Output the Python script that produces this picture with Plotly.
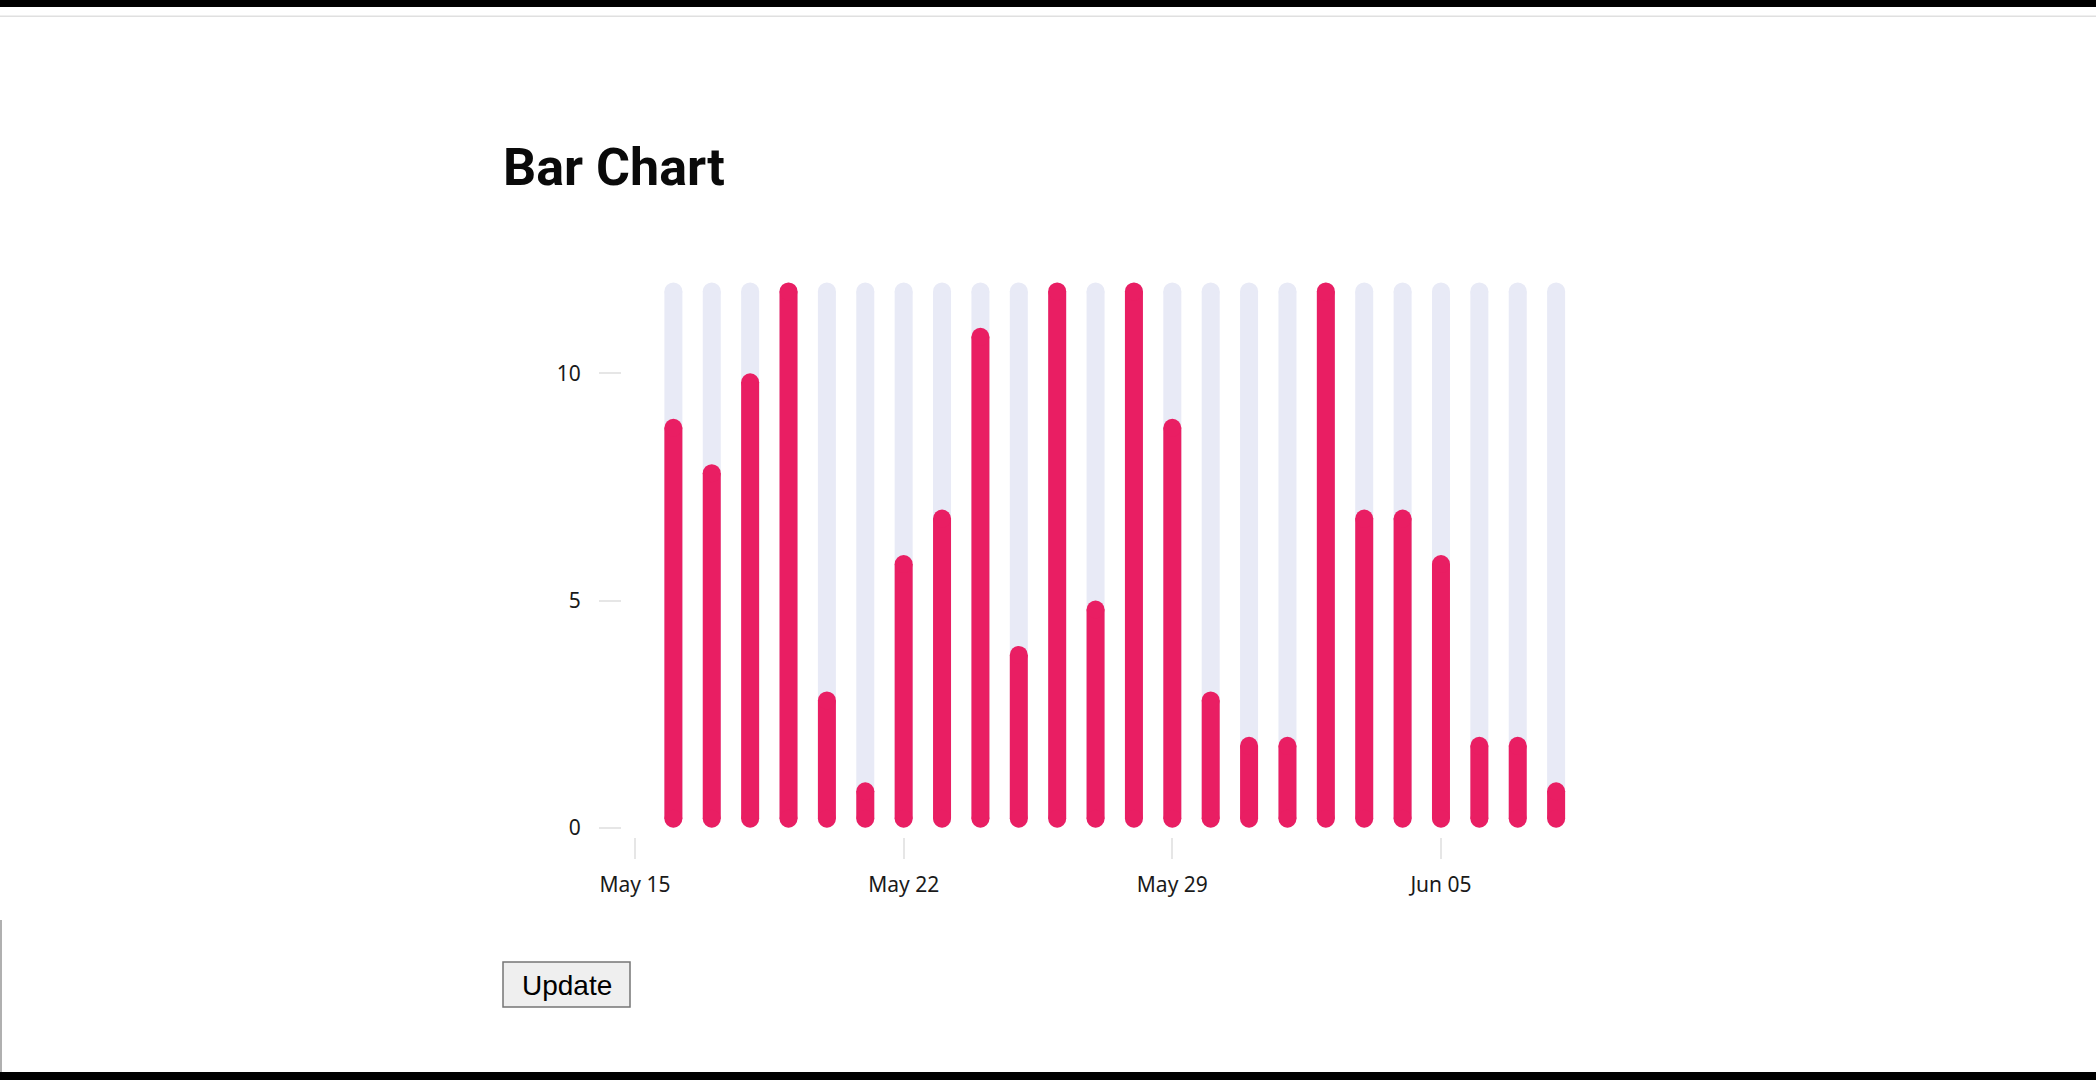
import plotly.graph_objects as go
import pandas as pd

# ---- data ----
dates = ["2022-05-16", "2022-05-17", "2022-05-18", "2022-05-19", "2022-05-20", "2022-05-21",
         "2022-05-22", "2022-05-23", "2022-05-24", "2022-05-25", "2022-05-26", "2022-05-27",
         "2022-05-28", "2022-05-29", "2022-05-30", "2022-05-31", "2022-06-01", "2022-06-02",
         "2022-06-03", "2022-06-04", "2022-06-05", "2022-06-06", "2022-06-07", "2022-06-08"]
values = [9, 8, 10, 12, 3, 1, 6, 7, 11, 4, 12, 5, 12, 9, 3, 2, 2, 12, 7, 7, 6, 2, 2, 1]
y_tick_values = [0, 5, 10]
title_text = "Bar Chart"
button_text = "Update"

max_value = max(values)
track_values = [max_value for _ in values]

# ---- layout geometry (pixels) ----
W, H = 2096, 1080
PL, PR, PT, PB = 622, 1580, 270, 837  # plot area edges
px_per_day = 38.38
tick0_px = 635  # pixel position of first weekly tick (May 15)
tick0 = pd.Timestamp("2022-05-15")
x_start = tick0 - pd.Timedelta(days=(tick0_px - PL) / px_per_day)
x_end = tick0 + pd.Timedelta(days=(PR - tick0_px) / px_per_day)
y0_px = 827.7
px_per_unit = 45.44
y_min = -(PB - y0_px) / px_per_unit
y_max = (y0_px - PT) / px_per_unit

def px_x(p):
    return (p - PL) / (PR - PL)

def px_y(p):
    return (PB - p) / (PB - PT)

BAR_W = 18  # px
cap = (BAR_W / 2) / px_per_unit  # cap radius in data units

PINK = "#E91E63"
TRACK = "#E8EAF6"

fig = go.Figure()

def add_pills(vals, color):
    xs, ys = [], []
    for d, v in zip(dates, vals):
        xs += [d, d, None]
        ys += [cap, v - cap, None]
    fig.add_trace(go.Scatter(
        x=xs, y=ys, mode="lines+markers",
        line=dict(color=color, width=BAR_W),
        marker=dict(color=color, size=BAR_W, symbol="circle", line=dict(width=0)),
        hoverinfo="skip", showlegend=False, connectgaps=False,
    ))

add_pills(track_values, TRACK)
add_pills(values, PINK)

tick_font = dict(family="Noto Sans", size=21, color="#1a1a1a")

fig.update_layout(
    width=W, height=H,
    margin=dict(l=PL, r=W - PR, t=PT, b=H - PB, pad=0),
    paper_bgcolor="white", plot_bgcolor="white",
    xaxis=dict(
        type="date", range=[x_start, x_end],
        tick0="2022-05-15", dtick=7 * 86400000, tickformat="%b %d",
        showgrid=False, zeroline=False, showline=False,
        ticks="outside", ticklen=21, tickwidth=2, tickcolor="#e6e6e6",
        ticklabelstandoff=8, tickfont=tick_font, fixedrange=True,
    ),
    yaxis=dict(
        range=[y_min, y_max], tickvals=y_tick_values,
        showgrid=False, zeroline=False, showline=False,
        ticks="outside", ticklen=22, tickwidth=2, tickcolor="#e6e6e6",
        ticklabelstandoff=14, tickfont=tick_font, fixedrange=True,
    ),
    annotations=[
        dict(text=f"<b>{title_text}</b>", xref="paper", yref="paper",
             x=px_x(501), y=px_y(168), xanchor="left", yanchor="middle",
             showarrow=False, font=dict(family="Roboto", size=52, color="#0a0a0a")),
        dict(text=button_text, xref="paper", yref="paper",
             x=px_x(566.5), y=px_y(985), xanchor="center", yanchor="middle",
             showarrow=False, font=dict(family="Liberation Sans, Arial", size=28, color="#000000")),
    ],
    shapes=[
        dict(type="rect", xref="paper", yref="paper",
             x0=px_x(503), x1=px_x(630), y0=px_y(1007), y1=px_y(962),
             fillcolor="#efefef", line=dict(color="#767676", width=1.5), layer="below"),
        # screenshot frame artifacts
        dict(type="rect", xref="paper", yref="paper",
             x0=px_x(0), x1=px_x(W), y0=px_y(7), y1=px_y(0),
             fillcolor="black", line=dict(width=0)),
        dict(type="rect", xref="paper", yref="paper",
             x0=px_x(0), x1=px_x(W), y0=px_y(17), y1=px_y(15.5),
             fillcolor="#e0e0e0", line=dict(width=0)),
        dict(type="rect", xref="paper", yref="paper",
             x0=px_x(0), x1=px_x(W), y0=px_y(H), y1=px_y(1072),
             fillcolor="black", line=dict(width=0)),
        dict(type="rect", xref="paper", yref="paper",
             x0=px_x(0), x1=px_x(2), y0=px_y(1072), y1=px_y(920),
             fillcolor="#b0b0b0", line=dict(width=0)),
    ],
)

fig.write_html("out.html", config={"displayModeBar": False})
